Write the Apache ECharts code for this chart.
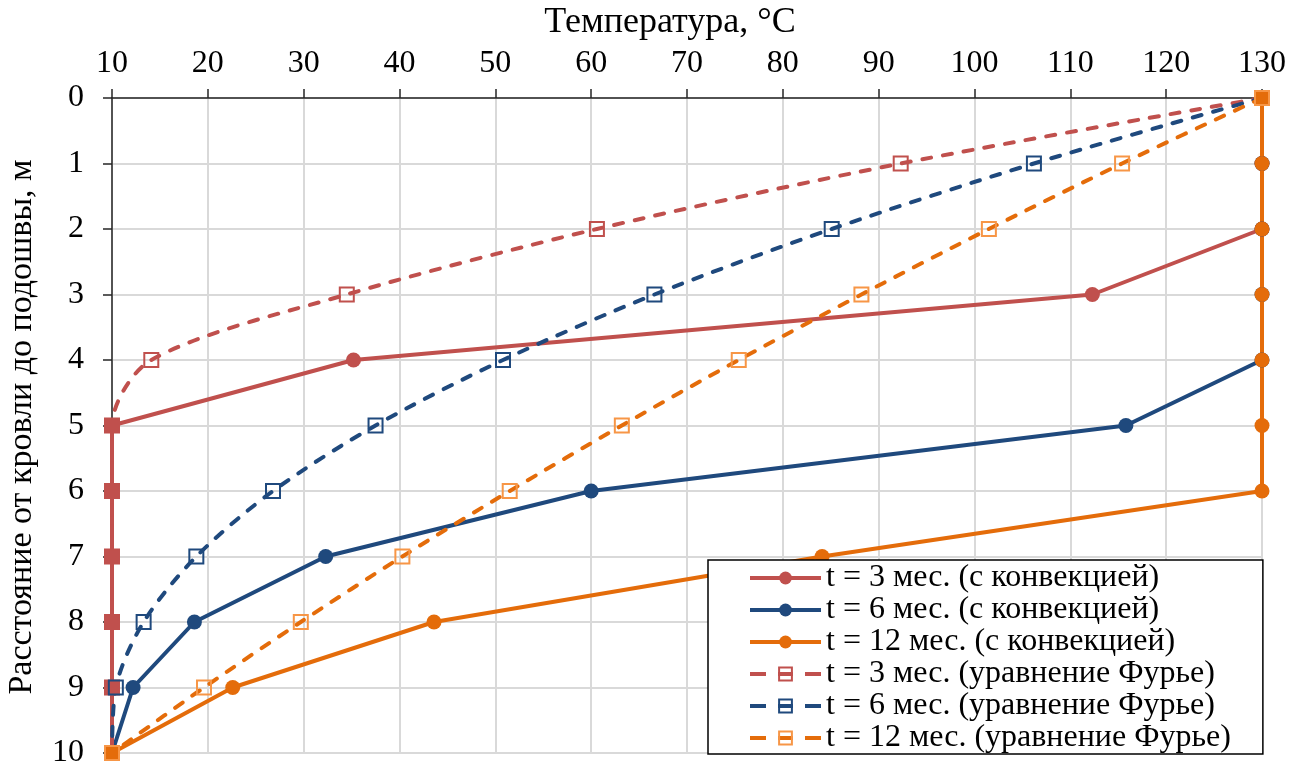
<!DOCTYPE html>
<html>
<head>
<meta charset="utf-8">
<script src="https://cdn.jsdelivr.net/npm/echarts@6/dist/echarts.min.js"></script>
<style>
  html, body { margin: 0; padding: 0; background: #fff; }
  #chart { width: 1302px; height: 769px; }
</style>
</head>
<body>
<div id="chart"></div>
<script>
// Depth below the roof, m
const depth = [0, 1, 2, 3, 4, 5, 6, 7, 8, 9, 10];

// Temperature, °C — model with convection
const conv3  = [130, 130, 130, 112.3, 35.2, 10, 10, 10, 10, 10, 10];
const conv6  = [130, 130, 130, 130, 130, 115.8, 60, 32.3, 18.6, 12.2, 10];
const conv12 = [130, 130, 130, 130, 130, 130, 130, 84.1, 43.6, 22.6, 10];

// Temperature, °C — Fourier equation
const four3  = [130, 92.3, 60.6, 34.5, 14.1, 10, 10, 10, 10, 10, 10];
const four6  = [130, 106.2, 85.1, 66.6, 50.8, 37.5, 26.8, 18.8, 13.3, 10.4, 10];
const four12 = [130, 115.4, 101.5, 88.2, 75.4, 63.2, 51.5, 40.3, 29.7, 19.6, 10];

const seriesNames = [
  't = 3 мес. (с конвекцией)',
  't = 6 мес. (с конвекцией)',
  't = 12 мес. (с конвекцией)',
  't = 3 мес. (уравнение Фурье)',
  't = 6 мес. (уравнение Фурье)',
  't = 12 мес. (уравнение Фурье)'
];

const xTitle = 'Температура, °C';
const yTitle = 'Расстояние от кровли до подошвы, м';

const RED = '#C0504D', BLUE = '#1F497D', ORANGE = '#E46C0A', ORANGE_LIGHT = '#F79646';
const FONT = '"Liberation Serif", "Times New Roman", serif';

function solidSeries(name, vals, color) {
  return {
    name, type: 'line',
    data: depth.map((d, i) => [vals[i], d]),
    symbol: 'circle', symbolSize: 15,
    lineStyle: { color, width: 4 },
    itemStyle: { color, borderWidth: 0 }
  };
}

function fourierSeries(name, vals, lineColor, markColor) {
  return {
    name, type: 'line',
    smooth: 0.3,
    data: depth.map((d, i) => {
      const pt = { value: [vals[i], d] };
      // points lying on the boundary temperatures are drawn solid
      if (vals[i] === 10 || vals[i] === 130) {
        pt.itemStyle = { color: lineColor };
      }
      return pt;
    }),
    symbol: 'rect', symbolSize: 14,
    lineStyle: { color: lineColor, width: 4, type: [9, 12], cap: 'round' },
    itemStyle: { color: 'rgba(255,255,255,0)', borderColor: markColor, borderWidth: 2 }
  };
}

// legend samples: solid line through a dot, or "– ⊟ –" for the dashed series
const legendData = seriesNames.map((name, i) => i < 3
  ? { name }
  : { name, lineStyle: { type: [16, 12, 15, 12, 16], cap: 'butt', width: 4 } });

const chart = echarts.init(document.getElementById('chart'), null, { renderer: 'canvas' });

chart.setOption({
  animation: false,
  backgroundColor: '#fff',
  grid: { left: 112, right: 40, top: 98, bottom: 14, containLabel: false },
  xAxis: {
    type: 'value', position: 'top',
    min: 10, max: 130, interval: 10,
    axisLine: { show: true, lineStyle: { color: '#262626', width: 1.5 } },
    axisTick: { show: true, inside: false, length: 9, lineStyle: { color: '#262626', width: 1.5 } },
    axisLabel: { color: '#000', fontFamily: FONT, fontSize: 32, margin: 18 },
    splitLine: { show: true, lineStyle: { color: '#D9D9D9', width: 2 } }
  },
  yAxis: {
    type: 'value', inverse: true,
    min: 0, max: 10, interval: 1,
    axisLine: { show: true, lineStyle: { color: '#262626', width: 1.5 } },
    axisTick: { show: true, inside: false, length: 9, lineStyle: { color: '#262626', width: 1.5 } },
    axisLabel: { color: '#000', fontFamily: FONT, fontSize: 32, margin: 28 },
    splitLine: { show: true, lineStyle: { color: '#D9D9D9', width: 2 } }
  },
  graphic: [
    {
      type: 'text', x: 670, y: 23,
      style: { text: xTitle, font: '36px ' + FONT, fill: '#000', textAlign: 'center', textVerticalAlign: 'middle' }
    },
    {
      type: 'text', x: 22, y: 427, rotation: Math.PI / 2,
      style: { text: yTitle, font: '34px ' + FONT, fill: '#000', textAlign: 'center', textVerticalAlign: 'middle' }
    }
  ],
  legend: {
    orient: 'vertical',
    left: 708, top: 560,
    padding: [2, 32, 0, 40],
    itemWidth: 71, itemHeight: 16, itemGap: 0,
    backgroundColor: '#fff',
    borderColor: '#000', borderWidth: 1.5,
    selectedMode: false,
    lineStyle: { width: 'inherit' },
    textStyle: { color: '#000', fontFamily: FONT, fontSize: 32, lineHeight: 32 },
    data: legendData
  },
  series: [
    solidSeries(seriesNames[0], conv3, RED),
    solidSeries(seriesNames[1], conv6, BLUE),
    solidSeries(seriesNames[2], conv12, ORANGE),
    fourierSeries(seriesNames[3], four3, RED, RED),
    fourierSeries(seriesNames[4], four6, BLUE, BLUE),
    fourierSeries(seriesNames[5], four12, ORANGE, ORANGE_LIGHT)
  ]
});
</script>
</body>
</html>
